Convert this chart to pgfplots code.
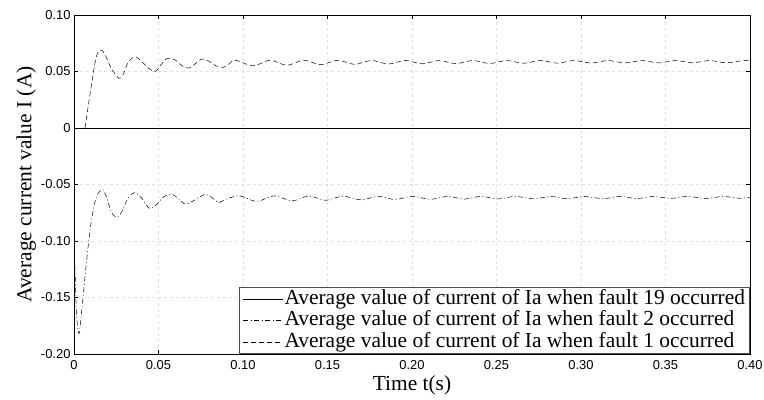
\documentclass[border=0pt]{standalone}
\usepackage{pgfplots}
\pgfplotsset{compat=1.18}
\usepackage{fontspec}
\setmainfont{Liberation Serif}
\newfontfamily\tickfont{Liberation Sans}
\begin{document}
\begin{tikzpicture}
\begin{axis}[
  scale only axis, width=676bp, height=339bp,
  xmin=0, xmax=0.4, ymin=-0.2, ymax=0.1,
  xtick={0,0.05,0.1,0.15,0.2,0.25,0.3,0.35,0.4},
  xticklabels={0,0.05,0.10,0.15,0.20,0.25,0.30,0.35,0.40},
  ytick={-0.2,-0.15,-0.1,-0.05,0,0.05,0.1},
  yticklabels={-0.20,-0.15,-0.10,-0.05,0,0.05,0.10},
  tick align=inside, tick pos=both, major tick length=4bp,
  tick style={black, line width=0.6bp},
  grid=major, grid style={dashed, black!12, line width=0.6bp},
  ticklabel style={font=\tickfont\fontsize{13}{13}\selectfont},
  xticklabel style={yshift=-3bp},
  label style={font=\fontsize{21.5}{23}\selectfont},
  xlabel={Time t(s)}, ylabel={Average current value I (A)},
  xlabel style={yshift=1bp},
  ylabel style={yshift=-2bp},
  axis line style={black, line width=0.6bp},
  legend style={at={(1,0)}, anchor=south east, draw=black!70, line width=0.6bp,
    font=\fontsize{21.5}{22}\selectfont, inner ysep=1bp, inner xsep=3.5bp, row sep=0bp,
    nodes={text height=14.5bp, text depth=4.5bp, inner sep=1.2bp}},
  legend cell align=left,
  legend image code/.code={\draw[#1] (0bp,0bp) -- (40bp,0bp);},
]
\addplot[black, line width=0.6bp] coordinates {(0,0) (0.4,0)};
\addlegendentry{Average value of current of Ia when fault 19 occurred}
\addplot[black, line width=0.5bp, smooth, tension=0.5, dash pattern=on 5bp off 2.5bp on 1bp off 2.5bp] coordinates {
(0,-0.112) (0.0006,-0.126) (0.0015,-0.165) (0.003,-0.182) (0.005,-0.155) (0.0075,-0.117)
(0.0100,-0.085) (0.0130,-0.062) (0.0165,-0.0545) (0.019,-0.060) (0.022,-0.074) (0.025,-0.079)
(0.028,-0.075) (0.032,-0.062) (0.036,-0.0572) (0.040,-0.062) (0.0445,-0.071) (0.048,-0.069)
(0.053,-0.061) (0.058,-0.0587) (0.062,-0.063) (0.066,-0.0675) (0.070,-0.065) (0.0775,-0.0588)
(0.082,-0.062) (0.0855,-0.066) (0.090,-0.063) (0.098,-0.0600)
(0.108,-0.0650) (0.1185,-0.0600) (0.129,-0.0645) (0.139,-0.0602) (0.149,-0.0640) (0.159,-0.0603)
(0.170,-0.0636) (0.180,-0.0604) (0.190,-0.0633) (0.200,-0.0604) (0.211,-0.0631) (0.221,-0.0605)
(0.231,-0.0629) (0.241,-0.0605) (0.251,-0.0628) (0.261,-0.0605) (0.272,-0.0627) (0.282,-0.0606)
(0.292,-0.0626) (0.302,-0.0606) (0.313,-0.0625) (0.323,-0.0606) (0.333,-0.0624) (0.343,-0.0606)
(0.353,-0.0623) (0.363,-0.0606) (0.374,-0.0623) (0.384,-0.0606) (0.394,-0.0622) (0.4,-0.0612)
};
\addlegendentry{Average value of current of Ia when fault 2 occurred}
\addplot[black, line width=0.5bp, dash pattern=on 5bp off 3bp] coordinates {(0,0) (0.0065,0)};
\addplot[black, line width=0.5bp, smooth, tension=0.5, dash pattern=on 5bp off 3bp, forget plot] coordinates {
(0.0065,0) (0.010,0.035) (0.013,0.062) (0.0155,0.069) (0.018,0.066) (0.022,0.053)
(0.0265,0.044) (0.029,0.047) (0.032,0.058) (0.036,0.063) (0.040,0.059) (0.044,0.053)
(0.048,0.050) (0.051,0.055) (0.055,0.0615) (0.060,0.060) (0.064,0.055) (0.068,0.053)
(0.071,0.056) (0.0755,0.061) (0.080,0.059) (0.084,0.055) (0.0885,0.0537) (0.092,0.057)
(0.0955,0.060) (0.106,0.0550) (0.116,0.0600) (0.126,0.0555) (0.136,0.0600) (0.146,0.0560)
(0.156,0.0600) (0.166,0.0563) (0.176,0.0598) (0.186,0.0566) (0.196,0.0598) (0.206,0.0568)
(0.216,0.0597) (0.226,0.0570) (0.236,0.0597) (0.246,0.0571) (0.256,0.0597) (0.266,0.0573)
(0.276,0.0597) (0.286,0.0574) (0.296,0.0597) (0.306,0.0575) (0.316,0.0597) (0.326,0.0576)
(0.336,0.0597) (0.346,0.0576) (0.356,0.0597) (0.366,0.0577) (0.376,0.0597) (0.386,0.0577)
(0.396,0.0597) (0.4,0.0595)
};
\addlegendentry{Average value of current of Ia when fault 1 occurred}
\end{axis}
\pgfresetboundingbox
\path (current axis.south west) ++(-74bp,-46bp) coordinate (bbsw);
\path (current axis.north east) ++(14bp,15bp) coordinate (bbne);
\path[use as bounding box] (bbsw) rectangle (bbne);
\end{tikzpicture}
\end{document}
